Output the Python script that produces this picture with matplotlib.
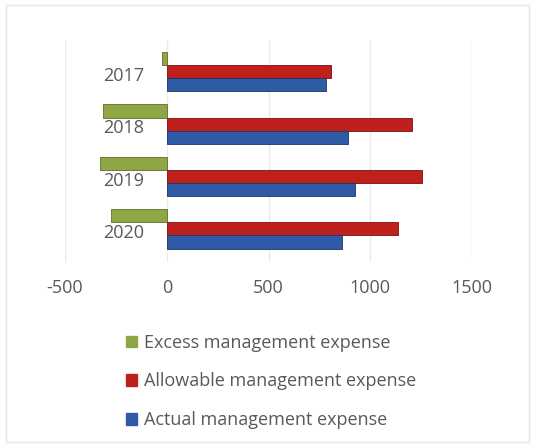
import matplotlib
matplotlib.use("Agg")
import matplotlib.pyplot as plt
from matplotlib.patches import Patch, Rectangle

years = ["2017", "2018", "2019", "2020"]
excess = [-25, -315, -330, -275]
allowable = [805, 1205, 1255, 1135]
actual = [780, 890, 925, 860]

labels = ["Excess management expense",
          "Allowable management expense",
          "Actual management expense"]
colors = ["#8fa645", "#c0201c", "#2f5aa6"]
edges = ["#5e6e2a", "#7a1010", "#1c3566"]

plt.rcParams["font.family"] = ["Open Sans", "DejaVu Sans"]
plt.rcParams["axes.unicode_minus"] = False
txt = "#595959"

fig = plt.figure(figsize=(5.35, 4.47), dpi=100)
fig.patches.append(Rectangle((0.012, 0.012), 0.976, 0.976, transform=fig.transFigure,
                             fill=False, edgecolor="#e6e6e6", linewidth=1))
ax = fig.add_axes([0.1215, 0.414, 0.761, 0.497])

h = 0.25
ys = list(range(len(years)))
series = [excess, allowable, actual]
for k, vals in enumerate(series):
    off = (k - 1) * h
    ax.barh([y + off for y in ys], vals, height=h, color=colors[k],
            edgecolor=edges[k], linewidth=0.6, zorder=3)

for y, yr in zip(ys, years):
    ax.text(-110, y + 0.08, yr, ha="right", va="center", fontsize=13, color=txt, zorder=4)

ax.set_xlim(-500, 1500)
ax.set_ylim(3.63, -0.61)
ax.set_xticks([-500, 0, 500, 1000, 1500])
ax.set_yticks([])
ax.tick_params(axis="x", length=0, pad=12, labelsize=13, labelcolor=txt)
ax.grid(axis="x", color="#ebebeb", linewidth=1, zorder=0)
for s in ax.spines.values():
    s.set_visible(False)

handles = [Patch(facecolor=c, edgecolor=c) for c in colors]
fig.legend(handles, labels, loc="upper left", bbox_to_anchor=(0.205, 0.29),
           frameon=False, fontsize=13, labelcolor=txt, handlelength=0.6,
           handleheight=0.6, handletextpad=0.4, labelspacing=1.15)

fig.savefig("out.png", dpi=100)
